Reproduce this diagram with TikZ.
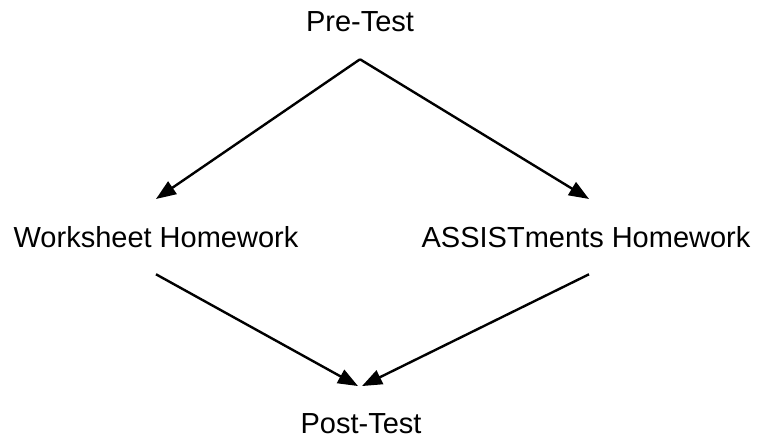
\documentclass[tikz,border=0pt]{standalone}
\usepackage{fontspec}
\setmainfont{Liberation Sans}
\usetikzlibrary{arrows.meta}
\tikzset{
	stage/.style={inner sep=0pt, outer sep=27pt, anchor=base, font=\fontsize{29}{35}\selectfont},
	flow/.style={line width=2.4pt, -{Triangle[length=20pt,width=15pt]}}
}

\begin{document}
\begin{tikzpicture}[x=1pt, y=-1pt]
		%%%%% START %%%%%
		
		\useasboundingbox (0, 0) rectangle (759, 438);
		
		\node[stage] (pre) at (360, 32) {Pre-Test};
		\node[stage] (worksheet) at (156, 247) {Worksheet Homework};
		\node[stage] (assist) at (586, 247) {ASSISTments Homework};
		\node[stage] (post) at (361, 433) {Post-Test};
		
		\draw[flow] (pre.south) -- (worksheet.north);
		\draw[flow] (pre.south) -- ([xshift=3pt]assist.north);
		
		\draw[flow] (worksheet.south) -- ([xshift=-3pt]post.north);
		\draw[flow] ([xshift=3pt]assist.south) -- ([xshift=1pt]post.north);
		
		%%%%% END %%%%%
	\end{tikzpicture}
\end{document}
